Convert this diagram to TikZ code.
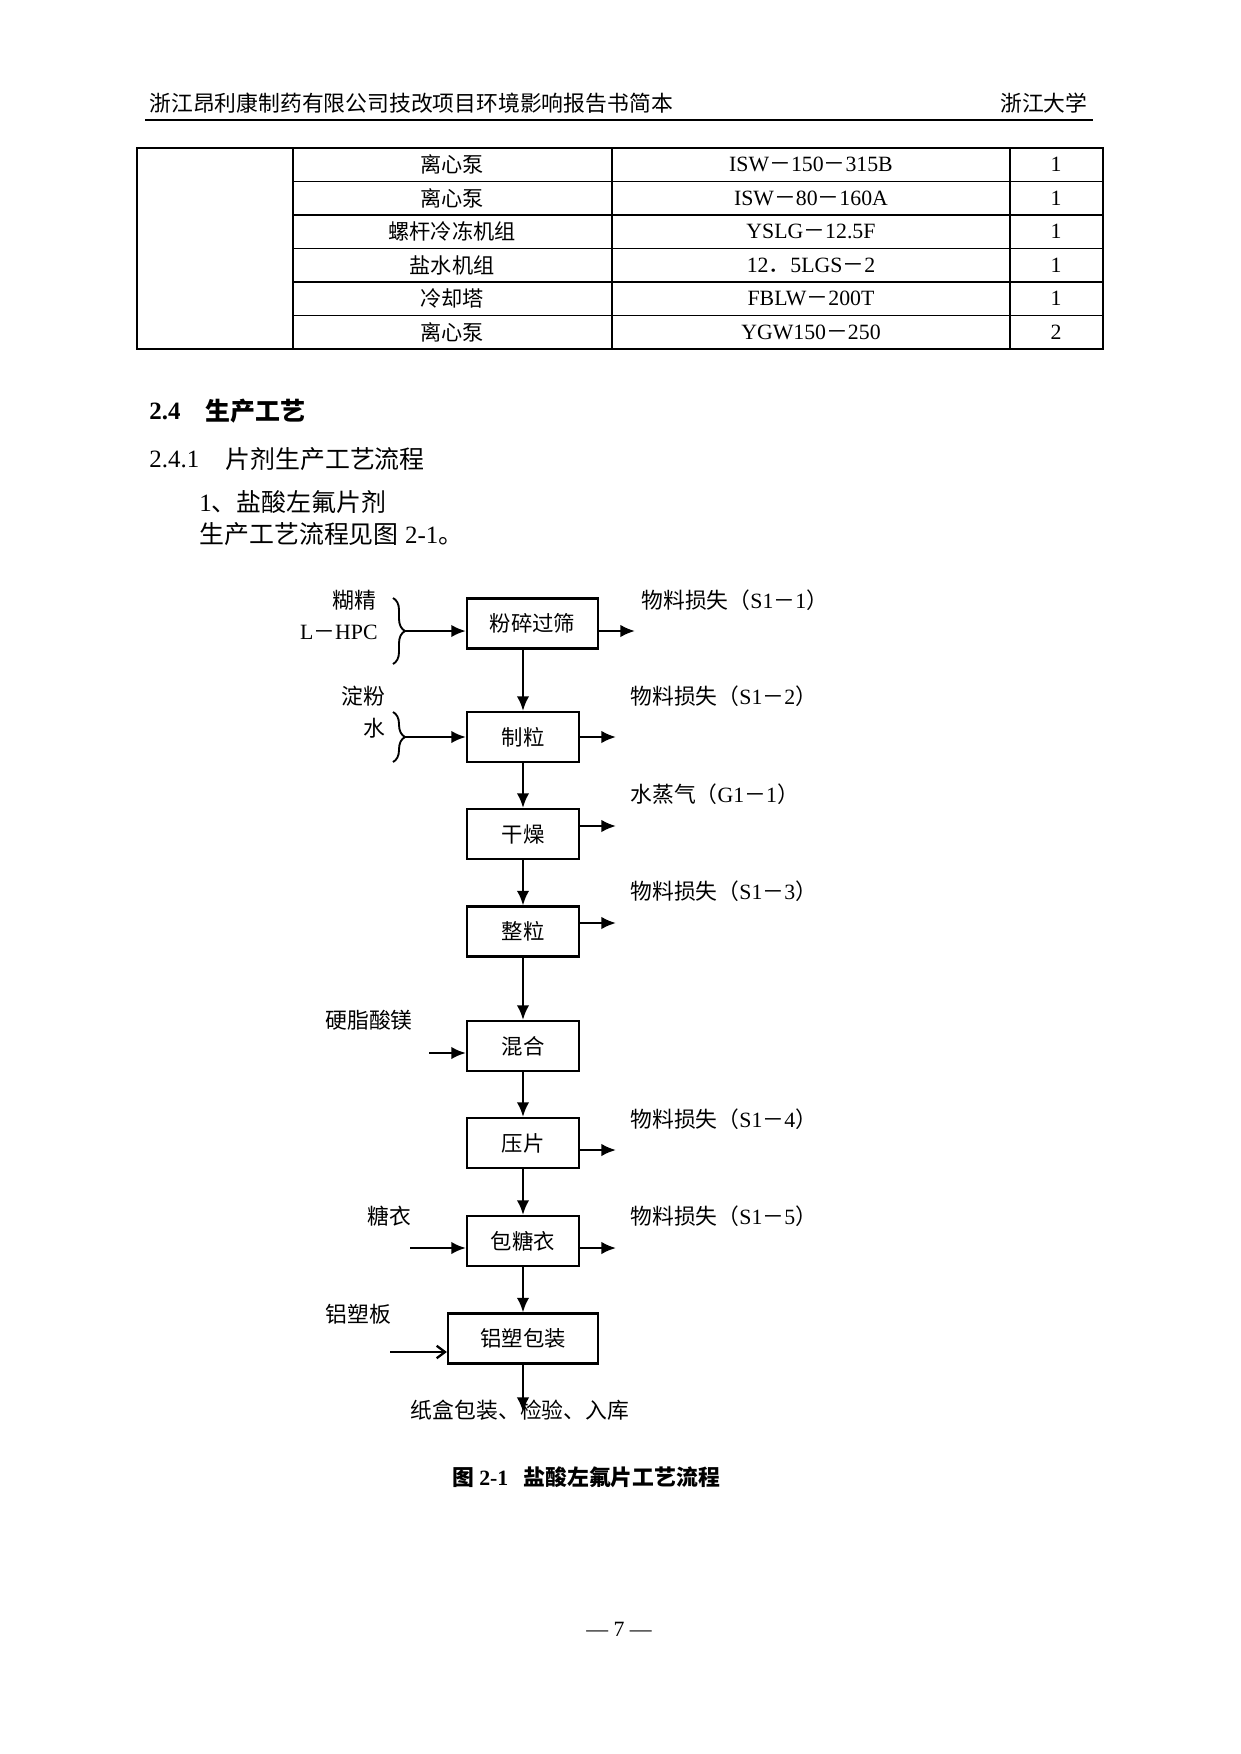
\documentclass[tikz,border=0pt]{standalone}
\usepackage{fontspec}
\setmainfont{Liberation Serif}
\newfontfamily\zh{Noto Sans CJK SC}
\usetikzlibrary{positioning}
\usetikzlibrary{arrows.meta}
\usetikzlibrary{decorations.pathreplacing}

\newcommand{\fm}{{\zh －}}

\tikzset{
  stage/.style={draw, line width=1.1pt, minimum width=53.9pt, minimum height=24.1pt, inner sep=0pt, font=\zh\fontsize{10.3}{12}\selectfont},
  lbl/.style={inner sep=0pt, font=\zh\fontsize{10.5}{12}\selectfont},
  txt/.style={inner sep=0pt, font=\fontsize{10.5}{12}\selectfont},
  flow/.style={line width=1.1pt, -{Latex[length=7pt,width=6pt]}},
  brc/.style={line width=0.9pt, decorate, decoration={brace, amplitude=5.8pt}},
}

\begin{document}
\begin{tikzpicture}[x=0.48146pt, y=-0.48146pt]
\useasboundingbox (0,0) rectangle (1241,1754);

% page head
\node[lbl, anchor=west, font=\zh\fontsize{10.5}{12}\selectfont] (head) at (149,103) {浙江昂利康制药有限公司技改项目环境影响报告书简本};
\node[lbl, anchor=east, font=\zh\fontsize{10.5}{12}\selectfont] (school) at (1088,103) {浙江大学};
\draw[line width=1pt] (145,120) -- (1093,120);

% table
\draw[line width=0.6pt] (137,148) rectangle (1103,349);
\foreach \x in {293,612,1010}
  \draw[line width=0.6pt] (\x,148) -- (\x,349);
\foreach \i in {1,...,5}
  \draw[line width=0.6pt] (293,{148+33.5*\i}) -- (1103,{148+33.5*\i});
\foreach \name/\model/\num [count=\i] in {离心泵/ISW\fm 150\fm 315B/1,离心泵/ISW\fm 80\fm 160A/1,螺杆冷冻机组/YSLG\fm 12.5F/1,盐水机组/12{\zh ．}5LGS\fm 2/1,冷却塔/FBLW\fm 200T/1,离心泵/YGW150\fm 250/2}
{
  \node[lbl, font=\zh\fontsize{10.2}{12}\selectfont] (n\i) at (452,{148+33.5*(\i-0.5)}) {\name};
  \node[txt] (m\i) at (811,{148+33.5*(\i-0.5)}) {\model};
  \node[txt] (q\i) at (1056,{148+33.5*(\i-0.5)}) {\num};
}

% headings
\node[inner sep=0pt, anchor=west, font=\bfseries\fontsize{12}{14}\selectfont] (sec) at (149,411) {2.4};
\node[inner sep=0pt, anchor=west, font=\zh\bfseries\fontsize{12}{14}\selectfont] (secname) at (205,411) {生产工艺};
\node[inner sep=0pt, anchor=west, font=\fontsize{12}{14}\selectfont] (sub) at (149,459) {2.4.1};
\node[inner sep=0pt, anchor=west, font=\zh\fontsize{12}{14}\selectfont] (subname) at (225,459) {片剂生产工艺流程};
\node[inner sep=0pt, anchor=west, font=\fontsize{12}{14}\selectfont] (item) at (199,502) {1{\zh 、盐酸左氟片剂}};
\node[inner sep=0pt, anchor=west, font=\fontsize{12}{14}\selectfont] (see) at (199,534) {{\zh 生产工艺流程见图} 2-1{\zh 。}};

% process boxes
\node[stage, minimum width=63.1pt] (fs) at (532.5,623.5) {粉碎过筛};
\node[stage] (zl) at (523,737) {制粒};
\node[stage] (gz) at (523,834) {干燥};
\node[stage] (zli) at (523,931.5) {整粒};
\node[stage] (hh) at (523,1046) {混合};
\node[stage] (yp) at (523,1143) {压片};
\node[stage] (bty) at (523,1241) {包糖衣};
\node[stage, minimum width=72.2pt] (lsbz) at (523,1338.5) {铝塑包装};

\foreach \a/\b in {fs/zl,zl/gz,gz/zli,zli/hh,hh/yp,yp/bty,bty/lsbz}
  \draw[flow] (\a.south -| \b.north) -- (\b.north);

% losses
\coordinate (outfs) at (635,631);
\draw[flow] (outfs -| fs.east) -- (outfs);
\foreach \b/\y in {zl/737,gz/826,zli/923,yp/1150,bty/1248}
{
  \coordinate (out\b) at (616,\y);
  \draw[flow] (out\b -| \b.east) -- (out\b);
}
\node[txt, anchor=west] (s1) at (641,600) {{\zh 物料损失（}S1\fm 1{\zh ）}};
\node[txt, anchor=west] (s2) at (630,696) {{\zh 物料损失（}S1\fm 2{\zh ）}};
\node[txt, anchor=west] (g1) at (630,794) {{\zh 水蒸气（}G1\fm 1{\zh ）}};
\node[txt, anchor=west] (s3) at (630,891) {{\zh 物料损失（}S1\fm 3{\zh ）}};
\node[txt, anchor=west] (s4) at (630,1119) {{\zh 物料损失（}S1\fm 4{\zh ）}};
\node[txt, anchor=west] (s5) at (630,1216) {{\zh 物料损失（}S1\fm 5{\zh ）}};

% inputs
\node[lbl, anchor=east] (hj) at (377,600) {糊精};
\node[txt, anchor=east] (hpc) at (378,632) {L\fm HPC};
\draw[brc] (393,598) -- (393,664);
\coordinate (b1) at (405,631);
\draw[flow] (b1) -- (b1 -| fs.west);

\node[lbl, anchor=east] (df) at (386,696) {淀粉};
\node[lbl, anchor=east] (water) at (386,728) {水};
\draw[brc] (393,712) -- (393,762);
\coordinate (b2) at (405,737);
\draw[flow] (b2) -- (b2 -| zl.west);

\node[lbl, anchor=west] (yzs) at (325,1020) {硬脂酸镁};
\coordinate (in3) at (429,1053);
\draw[flow] (in3) -- (in3 -| hh.west);

\node[lbl, anchor=west] (ty) at (367,1216) {糖衣};
\coordinate (in4) at (410,1248);
\draw[flow] (in4) -- (in4 -| bty.west);

\node[lbl, anchor=west] (lsb) at (325,1314) {铝塑板};
\coordinate (in5) at (390,1352);
\draw[line width=1.1pt, -{Straight Barb[length=4pt,width=6pt]}] (in5) -- (in5 -| lsbz.west);

% product
\node[lbl] (rk) at (520,1410) {纸盒包装、检验、入库};
\coordinate (end) at (523,1412);
\draw[flow] (lsbz.south) -- (end);

% caption and page number
\node[inner sep=0pt, font=\bfseries\fontsize{10.5}{12}\selectfont] (cap) at (586,1477) {{\zh\bfseries 图} 2-1\hspace{0.7em}{\zh\bfseries 盐酸左氟片工艺流程}};
\node[txt] (page) at (619,1629) {— 7 —};
\end{tikzpicture}
\end{document}
